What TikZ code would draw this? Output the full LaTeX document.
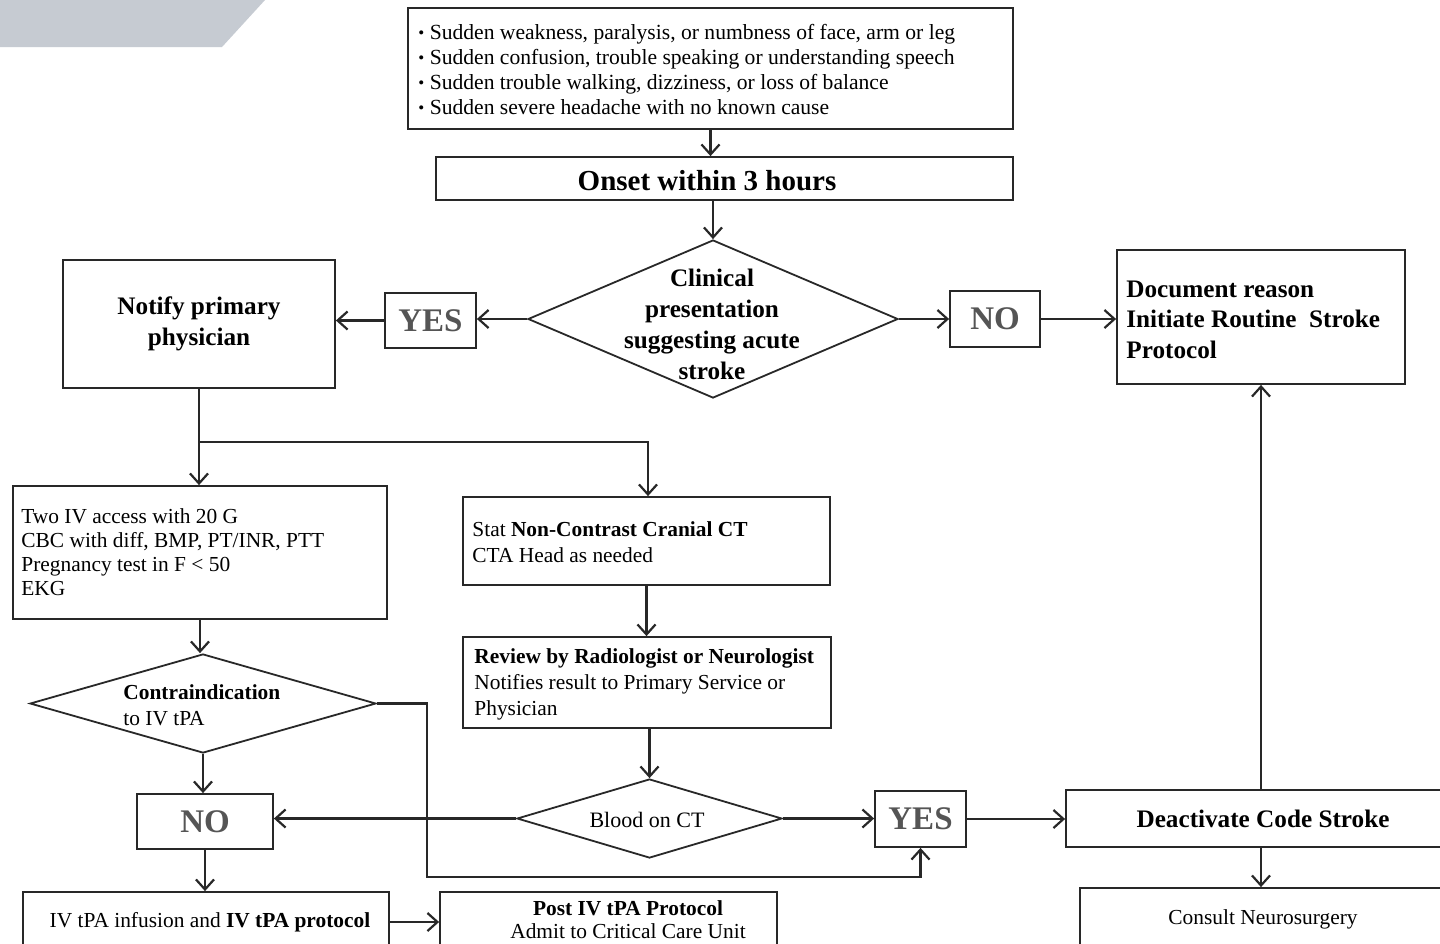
\documentclass[tikz,border=0pt]{standalone}
\usepackage{fontspec}
\setmainfont{Liberation Serif}
\usetikzlibrary{shapes.geometric,arrows.meta}
\definecolor{ln}{RGB}{40,40,40}
\definecolor{patch}{RGB}{198,203,210}
\definecolor{yn}{RGB}{85,85,85}
\newcommand\bul{\raisebox{0.1ex}{\fontsize{8.5}{8.5}\selectfont •}\ }
\begin{document}
\begin{tikzpicture}[x=0.5pt,y=-0.5pt,
  box/.style={draw=ln,line width=0.9pt,inner sep=0pt,fill=white},
  dia/.style={diamond,draw=ln,line width=0.9pt,inner sep=0pt,fill=white},
  arr/.style={draw=ln,line width=1.1pt,-{Straight Barb[length=5pt,width=9pt,line width=1.1pt]}},
  conn/.style={draw=ln,line width=1.1pt},
  txt/.style={inner sep=0pt,align=left,font=\fontsize{10.7}{12}\selectfont},
  bigb/.style={font=\fontsize{12.6}{15.2}\selectfont\bfseries},
  yntxt/.style={font=\fontsize{16.5}{18}\selectfont\bfseries,text=yn}
]
\useasboundingbox (0,0) rectangle (1440,943);
\clip (0,0) rectangle (1440,943);
\fill[white] (0,0) rectangle (1440,943);
\fill[patch] (0,0) -- (265,0) -- (222,47) -- (0,47) -- cycle;

% --- nodes ---
\node[box,minimum width=302.5pt,minimum height=60.5pt] (sym) at (710.5,68.5) {};
\node[txt,anchor=west,font=\fontsize{10.8}{12.5}\selectfont] (symt) at (418,69)
  {\bul Sudden weakness, paralysis, or numbness of face, arm or leg\\
   \bul Sudden confusion, trouble speaking or understanding speech\\
   \bul Sudden trouble walking, dizziness, or loss of balance\\
   \bul Sudden severe headache with no known cause};

\node[box,minimum width=288.5pt,minimum height=21.5pt] (onset) at (724.5,178.5) {};
\node[inner sep=0pt,font=\fontsize{14.5}{16}\selectfont\bfseries] (onsett) at (707,181) {Onset within 3 hours};

\node[dia,minimum width=185pt,minimum height=79pt] (d1) at (713,319) {};
\node[inner sep=0pt,align=center,font=\fontsize{12.6}{15.5}\selectfont\bfseries] (d1t) at (712,324)
  {Clinical\\presentation\\suggesting acute\\stroke};

\node[box,minimum width=45.5pt,minimum height=27.5pt,yntxt] (yes1) at (430.5,320.5) {YES};
\node[box,minimum width=136pt,minimum height=64pt,bigb,align=center] (notify) at (199,324) {Notify primary\\physician};
\node[box,minimum width=45pt,minimum height=28pt,yntxt] (no1) at (995,319) {NO};

\node[box,minimum width=144pt,minimum height=67pt] (doc) at (1261,317) {};
\node[inner sep=0pt,align=left,bigb,anchor=west] (doct) at (1126,319.5)
  {Document reason\\Initiate Routine~ Stroke\\Protocol};

\coordinate (br) at (199,442);
\coordinate (br2) at (648,442);

\node[box,minimum width=187pt,minimum height=66.5pt] (twoiv) at (200,552.5) {};
\node[txt,anchor=west] (twoivt) at (21,552.5)
  {Two IV access with 20 G\\CBC with diff, BMP, PT/INR, PTT\\Pregnancy test in F {<} 50\\EKG};

\node[box,minimum width=183.5pt,minimum height=44pt] (ct) at (646.5,541) {};
\node[txt,anchor=west,font=\fontsize{10.7}{13}\selectfont] (ctt) at (472,542)
  {Stat \textbf{Non-Contrast Cranial CT}\\CTA Head as needed};

\node[box,minimum width=184pt,minimum height=45.5pt] (rev) at (647,682.5) {};
\node[txt,anchor=west,font=\fontsize{10.7}{13}\selectfont] (revt) at (474,684.5)
  {\textbf{Review by Radiologist or Neurologist}\\Notifies result to Primary Service or\\Physician};

\node[dia,minimum width=173pt,minimum height=49.5pt] (d2) at (203,703.5) {};
\node[txt,anchor=west,font=\fontsize{10.7}{13}\selectfont] (d2t) at (123,705)
  {\textbf{Contraindication}\\to IV tPA};

\node[dia,minimum width=132.5pt,minimum height=39.5pt] (d3) at (649.5,818.5) {};
\node[inner sep=0pt,font=\fontsize{11}{13}\selectfont] (d3t) at (647,820) {Blood on CT};

\node[box,minimum width=68pt,minimum height=27.5pt,yntxt] (no2) at (205,821.5) {NO};
\node[box,minimum width=45.5pt,minimum height=28pt,yntxt] (yes2) at (920.5,819) {YES};

\node[box,minimum width=197pt,minimum height=28.5pt,bigb] (deact) at (1263,818.5) {Deactivate Code Stroke};

\node[box,minimum width=183pt,minimum height=30pt] (iv) at (206,922) {};
\node[inner sep=0pt,font=\fontsize{10.7}{12}\selectfont] (ivt) at (210,922) {IV tPA infusion and \textbf{IV tPA protocol}};

\node[box,minimum width=168.5pt,minimum height=34pt] (post) at (608.5,926) {};
\node[inner sep=0pt,align=center,font=\fontsize{10.7}{11.5}\selectfont] (postt) at (628,919.5)
  {\textbf{Post IV tPA Protocol}\\Admit to Critical Care Unit};

\node[box,minimum width=190pt,minimum height=36pt] (consult) at (1270,924) {};
\node[inner sep=0pt,font=\fontsize{10.7}{12}\selectfont] (consultt) at (1263,919) {Consult Neurosurgery};

\coordinate (c1) at (427,877);

% --- connectors ---
\draw[arr] (sym.south) -- (sym.south |- onset.north);
\draw[arr] (d1.north |- onset.south) -- (d1.north);
\draw[arr] (d1.west) -- (d1.west -| yes1.east);
\draw[arr] (yes1.west) -- (yes1.west -| notify.east);
\draw[arr] (d1.east) -- (d1.east -| no1.west);
\draw[arr] (no1.east) -- (no1.east -| doc.west);
\draw[conn] (notify.south) -- (br);
\draw[arr] (br) -- (br |- twoiv.north);
\draw[arr] (br) -- (br2) -- (br2 |- ct.north);
\draw[arr] (twoiv.south) -- (twoiv.south |- d2.north);
\draw[arr] (d2.south) -- (d2.south |- no2.north);
\draw[arr] (no2.south) -- (no2.south |- iv.north);
\draw[arr] (iv.east) -- (iv.east -| post.west);
\draw[arr] (d2.east) -| (c1) -| (yes2.south);
\draw[arr] (ct.south) -- (ct.south |- rev.north);
\draw[arr] (d3.north |- rev.south) -- (d3.north);
\draw[arr] (d3.west) -- (d3.west -| no2.east);
\draw[arr] (d3.east) -- (d3.east -| yes2.west);
\draw[arr] (yes2.east) -- (yes2.east -| deact.west);
\draw[arr] (doc.south |- deact.north) -- (doc.south);
\draw[arr] (doc.south |- deact.south) -- (doc.south |- consult.north);
\end{tikzpicture}
\end{document}
